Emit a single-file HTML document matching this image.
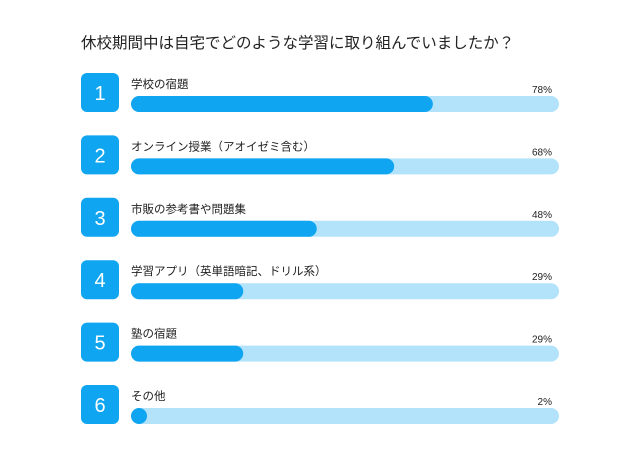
<!DOCTYPE html>
<html><head><meta charset="utf-8"><style>
body{margin:0;background:#fff;width:640px;height:456px;overflow:hidden;font-family:"Liberation Sans","Noto Sans CJK JP",sans-serif;}
</style></head><body>
<svg id="c" width="640" height="456">
<text x="81" y="48" font-size="15.5" fill="#222" font-family="Liberation Sans, Noto Sans CJK JP, sans-serif">休校期間中は自宅でどのような学習に取り組んでいましたか？</text>
</svg>
<script>
const categories=["学校の宿題","オンライン授業（アオイゼミ含む）","市販の参考書や問題集","学習アプリ（英単語暗記、ドリル系）","塾の宿題","その他"];
const values=[78,68,48,29,29,2];
const labels=["78%","68%","48%","29%","29%","2%"];
const svg=document.getElementById('c');
const NS="http://www.w3.org/2000/svg";
const x0=131,trackW=428,scale=3.87;
function xw(v){return Math.max(16,v*scale);}
function rowY(i){return 73+i*62.4;}
function mk(t,a){const e=document.createElementNS(NS,t);for(const k in a)e.setAttribute(k,a[k]);svg.appendChild(e);return e;}
categories.forEach((c,i)=>{
 const y=rowY(i);
 let b=mk('rect',{x:81,y:y,width:38,height:39,rx:6,fill:'#0fa5f0'});
 
 
 let n=mk('text',{x:100,y:y+27,'font-size':20,fill:'#fff','text-anchor':'middle'});n.textContent=String(i+1);
 
 
 let l=mk('text',{x:x0,y:y+15,'font-size':11.5,fill:'#222'});l.textContent=c;
 
 
 let p=mk('text',{x:552,y:y+20,'font-size':10,fill:'#222','text-anchor':'end'});p.textContent=labels[i];
 
 
 let t=mk('rect',{x:x0,y:y+23,width:trackW,height:16,rx:8,fill:'#b3e2fb'});
 
 
 let f=mk('rect',{x:x0,y:y+23,width:xw(values[i]),height:16,rx:8,fill:'#0fa5f0'});
 
 
});
</script>
</body></html>
